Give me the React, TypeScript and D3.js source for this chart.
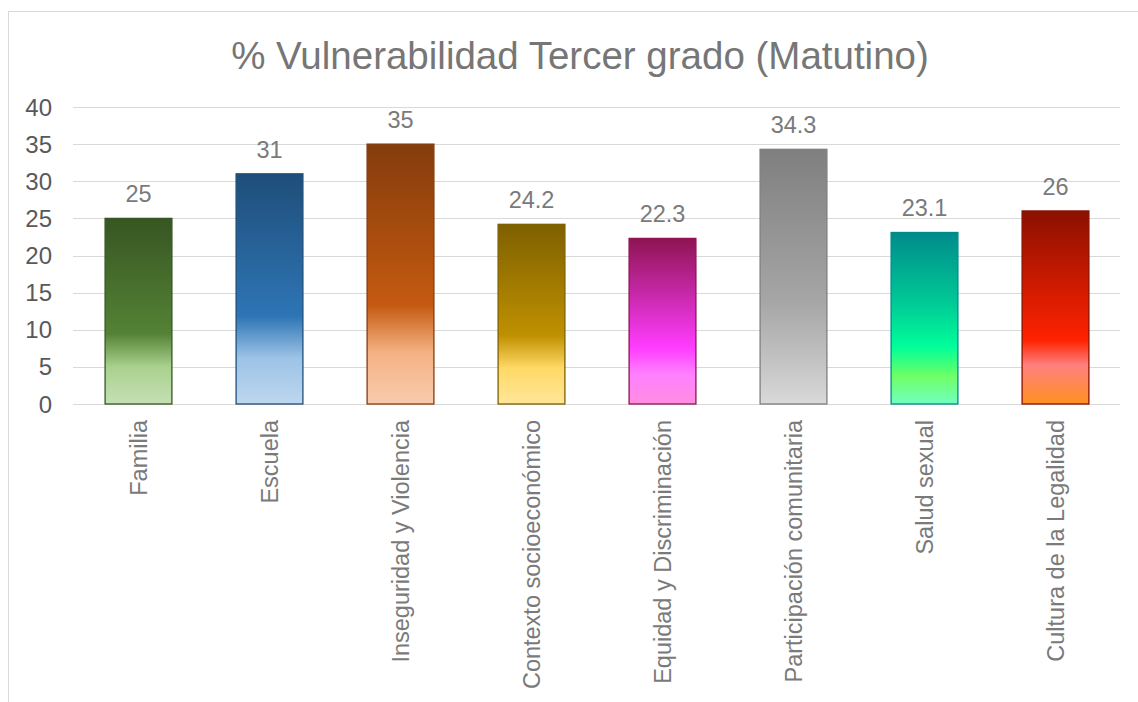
import React, { useEffect, useRef } from 'react'
import * as d3 from 'd3'

const categories = [
  'Familia',
  'Escuela',
  'Inseguridad y Violencia',
  'Contexto socioeconómico',
  'Equidad y Discriminación',
  'Participación comunitaria',
  'Salud sexual',
  'Cultura de la Legalidad',
]
const values = [25, 31, 35, 24.2, 22.3, 34.3, 23.1, 26]
const yTicks = [0, 5, 10, 15, 20, 25, 30, 35, 40]

// gradient stops per bar (top -> bottom)
const palette = [
  [['0', '#375623'], ['0.62', '#548235'], ['0.8', '#a9d18e'], ['1', '#c5e0b4']],
  [['0', '#1f4e79'], ['0.62', '#2e75b6'], ['0.8', '#9dc3e6'], ['1', '#bdd7ee']],
  [['0', '#843c0c'], ['0.62', '#c55a11'], ['0.8', '#f4b183'], ['1', '#f8cbad']],
  [['0', '#7f6000'], ['0.62', '#bf9000'], ['0.8', '#ffd966'], ['1', '#ffe699']],
  [['0', '#8e1452'], ['0.66', '#ff3cff'], ['0.82', '#ff80ff'], ['1', '#ff8ee0']],
  [['0', '#7f7f7f'], ['0.6', '#a6a6a6'], ['0.8', '#bfbfbf'], ['1', '#d9d9d9']],
  [['0', '#008b8b'], ['0.4', '#00c896'], ['0.67', '#00ff99'], ['0.84', '#70ff66'], ['1', '#70ffc0']],
  [['0', '#8b1000'], ['0.67', '#ff2200'], ['0.8', '#ff8080'], ['1', '#ff9020']],
]

const W = 1138
const H = 702
const FONT = 'Liberation Sans, Arial, sans-serif'

export default function App() {
  const ref = useRef<SVGSVGElement>(null)

  useEffect(() => {
    const svg = d3.select(ref.current)
    svg.selectAll('*').remove()

    const left = 73, right = 1121, top = 107, bottom = 404
    const x = d3.scaleBand().domain(categories).range([left, right]).paddingInner(0.49).paddingOuter(0.245)
    const y = d3.scaleLinear().domain([0, 40]).range([bottom, top])

    // chart frame
    svg.append('rect').attr('x', 8.5).attr('y', 11.5).attr('width', W).attr('height', H)
      .attr('fill', '#fff').attr('stroke', '#d9d9d9')

    const defs = svg.append('defs')
    palette.forEach((stops, i) => {
      const g = defs.append('linearGradient').attr('id', 'grad' + i)
        .attr('x1', 0).attr('y1', 0).attr('x2', 0).attr('y2', 1)
      stops.forEach(s => g.append('stop').attr('offset', s[0]).attr('stop-color', s[1]))
    })

    svg.append('text').attr('x', 580).attr('y', 69).attr('text-anchor', 'middle')
      .style('font-family', FONT).style('font-size', '38.5px')
      .attr('fill', '#767676').text('% Vulnerabilidad Tercer grado (Matutino)')

    const grid = svg.append('g')
    grid.selectAll('line').data(yTicks).enter().append('line')
      .attr('x1', left).attr('x2', right - 1)
      .attr('y1', d => Math.round(y(d)) + 0.5).attr('y2', d => Math.round(y(d)) + 0.5)
      .attr('stroke', '#d9d9d9').attr('stroke-width', 1.2)

    grid.selectAll('text').data(yTicks).enter().append('text')
      .attr('x', 52).attr('y', d => y(d) + 8.5).attr('text-anchor', 'end')
      .style('font-family', FONT).style('font-size', '24px')
      .attr('fill', '#595959').text(d => d)

    const bars = svg.append('g')
    bars.selectAll('rect').data(values).enter().append('rect')
      .attr('x', (d, i) => x(categories[i])!)
      .attr('y', d => y(d))
      .attr('width', x.bandwidth())
      .attr('height', d => y(0) - y(d))
      .attr('fill', (d, i) => `url(#grad${i})`)
      .attr('stroke', (d, i) => palette[i][0][1]).attr('stroke-width', 1.3)

    bars.selectAll('text.val').data(values).enter().append('text').attr('class', 'val')
      .attr('x', (d, i) => x(categories[i])! + x.bandwidth() / 2)
      .attr('y', d => y(d) - 16)
      .attr('text-anchor', 'middle')
      .style('font-family', FONT).style('font-size', '23.5px')
      .attr('fill', '#7a7a7a').text(d => d)

    svg.append('g').selectAll('text').data(categories).enter().append('text')
      .attr('transform', d => `translate(${x(d)! + x.bandwidth() / 2 + 8.5},${bottom + 16}) rotate(-90)`)
      .attr('text-anchor', 'end')
      .style('font-family', FONT).style('font-size', '23.5px')
      .attr('fill', '#7a7a7a').text(d => d)
  }, [])

  return (
    <div>
      <svg ref={ref} width={W} height={H} style={{ position: 'absolute', left: 0, top: 0, display: 'block' }} />
    </div>
  )
}
